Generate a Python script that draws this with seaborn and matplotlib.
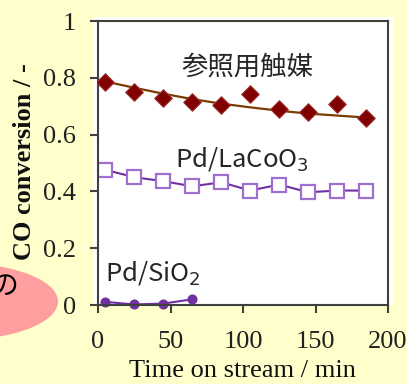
import numpy as np
import pandas as pd
import matplotlib.pyplot as plt
import seaborn as sns
from matplotlib.patches import Ellipse, Rectangle

# values
time_min = [5, 25, 45, 65, 85, 105, 125, 145, 165, 185]
ref_conv = [0.784, 0.749, 0.728, 0.714, 0.703, 0.742, 0.689, 0.678, 0.707, 0.657]
ref_trend = [0.787, 0.765, 0.744, 0.725, 0.709, 0.696, 0.684, 0.674, 0.667, 0.660]
lacoo3_conv = [0.476, 0.450, 0.436, 0.418, 0.432, 0.403, 0.424, 0.397, 0.403, 0.403]
sio2_time = [5, 25, 45, 65]
sio2_conv = [0.011, 0.002, 0.005, 0.020]
x_ticks = [0, 50, 100, 150, 200]
y_ticks = [0, 0.2, 0.4, 0.6, 0.8, 1]
y_tick_labels = ['0', '0.2', '0.4', '0.6', '0.8', '1']

sns.set_theme(style='ticks')
plt.rcParams['font.family'] = ['Liberation Serif', 'DejaVu Sans']
jp = ['Noto Sans CJK JP', 'DejaVu Sans']

W, H = 407, 384
fig = plt.figure(figsize=(W / 100, H / 100), dpi=100, facecolor='#FFFFCC')

# white plot panel slightly larger than the axes box
fig.add_artist(Rectangle((93 / W, 1 - 305 / H), 300 / W, 288 / H,
                         transform=fig.transFigure, facecolor='white',
                         edgecolor='none', zorder=0))

ax = fig.add_axes([98 / W, 1 - 305 / H, 290 / W, 284 / H])
ax.set_facecolor('white')

# reference catalyst: trend line + diamonds
sns.lineplot(x=time_min, y=ref_trend, color='#7a3c00', lw=1.6, ax=ax)
sns.scatterplot(x=time_min, y=ref_conv, marker='D', s=80, color='#800000',
                edgecolor='#9a3030', linewidth=0.8, ax=ax, zorder=3)

# Pd/LaCoO3
sns.lineplot(x=time_min, y=lacoo3_conv, color='#7030a0', lw=1.5, marker='s',
             markersize=10, markerfacecolor='white', markeredgecolor='#9e6fd0',
             markeredgewidth=1.6, ax=ax)

# Pd/SiO2
sns.lineplot(x=sio2_time, y=sio2_conv, color='#7030a0', lw=1.5, marker='o',
             markersize=6.5, markeredgecolor='#7030a0', clip_on=False, ax=ax)

ax.set_xlim(0, 200)
ax.set_ylim(0, 1)
ax.set_xticks(x_ticks)
ax.set_yticks(y_ticks)
ax.set_yticklabels(y_tick_labels)
ax.tick_params(axis='both', direction='out', length=6, width=1.5,
               color='#404040', labelsize=19, labelcolor='#202020')
ax.tick_params(axis='x', pad=13)
ax.tick_params(axis='y', pad=10)
for sp in ax.spines.values():
    sp.set_visible(True)
    sp.set_color('#404040')
    sp.set_linewidth(1.5)

ax.set_xlabel('Time on stream / min', fontsize=19, color='#101010')
ax.xaxis.set_label_coords(0.497, -0.195)
ax.set_ylabel('CO conversion / -', fontsize=19, fontweight='bold', color='#101010')
ax.yaxis.set_label_coords(-0.215, 0.505)

ax.text(102.8, 0.839, '参照用触媒', family=jp, fontsize=19, ha='center', va='center')
ax.text(53, 0.486, 'Pd/LaCoO$_3$', family=jp, fontsize=18.5, ha='left', va='baseline')
ax.text(4.8, 0.088, 'Pd/SiO$_2$', family=jp, fontsize=18.5, ha='left', va='baseline')

# pink callout bubble at the lower left edge
fig.add_artist(Ellipse((-42 / W, 1 - 301.5 / H), 200 / W, 77 / H,
                       transform=fig.transFigure, facecolor='#ff9e9e',
                       edgecolor='none', zorder=1))
fig.text(18 / W, 1 - 286 / H, 'の', family=jp, fontsize=20, ha='right',
         va='center', color='black', zorder=2)

fig.savefig('out.png', dpi=100, facecolor=fig.get_facecolor())
